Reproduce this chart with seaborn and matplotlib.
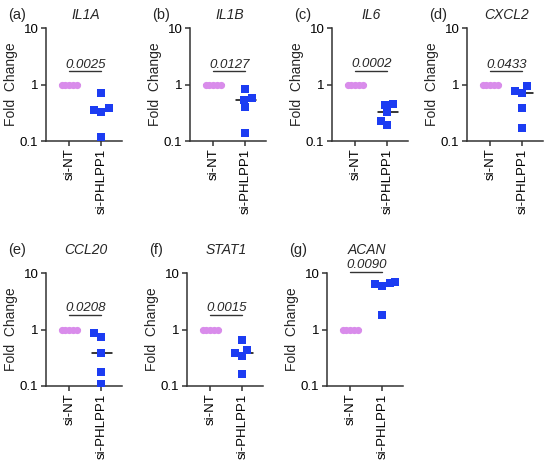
import matplotlib
matplotlib.use("Agg")
import matplotlib.pyplot as plt
import matplotlib.ticker as mticker
import numpy as np
import pandas as pd
import seaborn as sns

# Data
groups = ["si-NT", "si-PHLPP1"]
panel_tags = ["(a)", "(b)", "(c)", "(d)", "(e)", "(f)", "(g)"]
genes = ["IL1A", "IL1B", "IL6", "CXCL2", "CCL20", "STAT1", "ACAN"]
p_values = ["0.0025", "0.0127", "0.0002", "0.0433", "0.0208", "0.0015", "0.0090"]
p_line_y = [1.7, 1.7, 1.75, 1.7, 1.8, 1.8, 10.5]

si_nt = [1.0, 1.0, 1.0, 1.0, 1.0]
il1a = [0.71, 0.377, 0.33, 0.36, 0.116]
il1b = [0.82, 0.54, 0.58, 0.40, 0.136]
il6 = [0.45, 0.43, 0.32, 0.19, 0.23]
cxcl2 = [0.77, 0.93, 0.72, 0.39, 0.17]
ccl20 = [0.85, 0.74, 0.385, 0.18, 0.107]
stat1 = [0.65, 0.44, 0.34, 0.385, 0.16]
acan = [7.0, 6.4, 6.7, 5.9, 1.8]
knockdown = [il1a, il1b, il6, cxcl2, ccl20, stat1, acan]

violet = "#D98CEB"
blue = "#1C3CF2"
dark = "#333333"

sns.set_style("ticks")
plt.rcParams["font.family"] = ["Liberation Sans", "DejaVu Sans"]

W, H = 550, 469
fig = plt.figure(figsize=(W / 100, H / 100), dpi=100)

# axes boxes in pixels
lefts = [46, 190, 332, 467, 46, 187, 327]
tops = [28, 28, 28, 28, 273, 273, 273]
ax_w, ax_h = 76, 113

nt_swarms = []

for i in range(len(genes)):
    ax = fig.add_axes([lefts[i] / W, 1 - (tops[i] + ax_h) / H, ax_w / W, ax_h / H])

    df = pd.DataFrame({
        "group": [groups[0]] * len(si_nt) + [groups[1]] * len(knockdown[i]),
        "fc": si_nt + knockdown[i],
    })

    # median lines (behind points)
    for j, g in enumerate(groups):
        med = np.median(df.loc[df.group == g, "fc"])
        ax.plot([j - 0.28, j + 0.32], [med, med], color="black", lw=1.1, zorder=2)

    # control group: swarm laid out with a small marker so the dots overlap
    n_before = len(ax.collections)
    sns.swarmplot(
        data=df[df.group == groups[0]], x="group", y="fc", order=groups,
        color=violet, marker="o", size=2.7, linewidth=0,
        log_scale=True, ax=ax, zorder=3
    )
    for coll in ax.collections[n_before:]:
        if len(coll.get_offsets()) > 0:
            nt_swarms.append((ax, coll))

    sns.swarmplot(
        data=df[df.group == groups[1]], x="group", y="fc", order=groups,
        color=blue, marker="s", size=5.4, linewidth=0,
        log_scale=True, ax=ax, zorder=4
    )

    ax.set_yscale("log")
    ax.set_ylim(0.1, 10)
    ax.set_xlim(-0.73, 1.64)
    ax.set_yticks([0.1, 1, 10])
    ax.yaxis.set_major_formatter(mticker.FixedFormatter(["0.1", "1", "10"]))
    ax.yaxis.set_minor_locator(mticker.NullLocator())

    ax.set_xlabel("")
    ax.set_ylabel("Fold  Change", fontsize=10, labelpad=1)

    for side in ["top", "right"]:
        ax.spines[side].set_visible(False)
    for side in ["left", "bottom"]:
        ax.spines[side].set_color(dark)
        ax.spines[side].set_linewidth(1.1)

    ax.tick_params(axis="both", direction="out", length=3.5, width=1.1,
                   color=dark, labelcolor="black", pad=2)
    ax.tick_params(axis="y", labelsize=9.5)
    ax.tick_params(axis="x", labelsize=9.5, labelrotation=90)

    # p-value with underline
    yl = p_line_y[i]
    ax.plot([0, 1], [yl, yl], color=dark, lw=1.0, clip_on=False)
    ax.text(0.5, yl * 1.03, p_values[i], ha="center", va="bottom",
            fontsize=9.5, style="italic", clip_on=False)

    # panel tag and gene name
    ty = 1.115 if i < 4 else 1.2
    ax.text(-38 / ax_w, ty, panel_tags[i], transform=ax.transAxes,
            ha="left", va="center", fontsize=10.5)
    ax.text(0.5, ty, genes[i], transform=ax.get_xaxis_transform(),
            ha="center", va="center", fontsize=10, style="italic")

# run the swarm layout once, then redraw the control dots at full size
fig.canvas.draw()
for ax, coll in nt_swarms:
    xy = np.asarray(coll.get_offsets())
    coll.remove()
    ax.scatter(xy[:, 0], xy[:, 1], s=5.2 ** 2, color=violet, marker="o",
               linewidths=0, zorder=3)

fig.savefig("out.png", dpi=100, facecolor="white")
